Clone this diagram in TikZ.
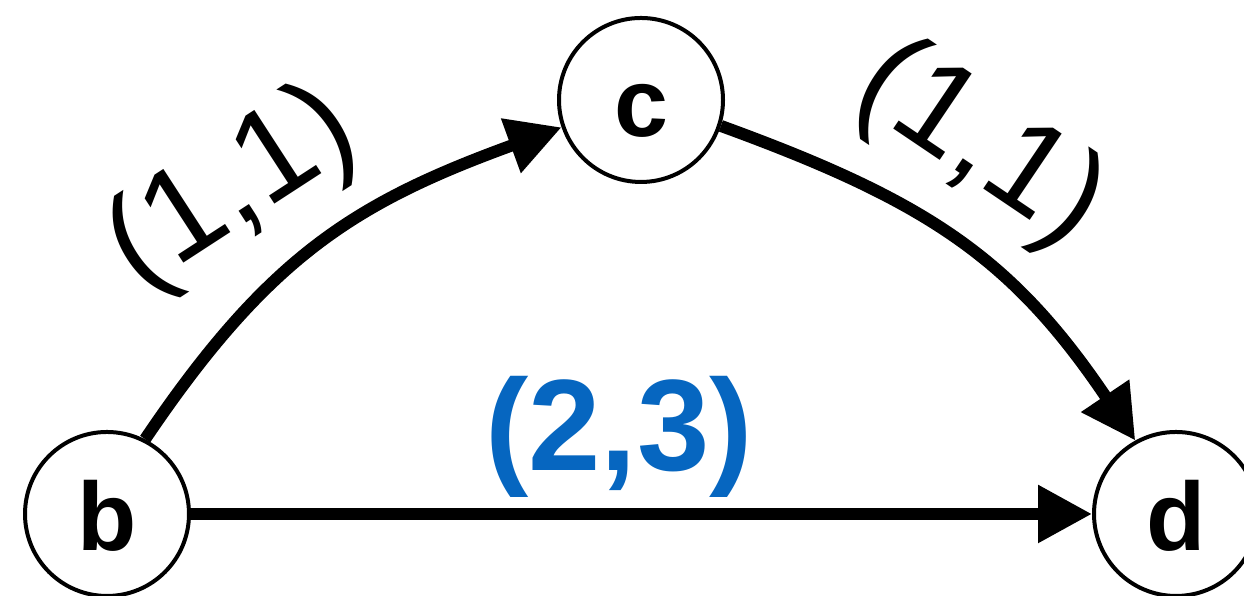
\documentclass[tikz,border=0pt]{standalone}
\usepackage{fontspec}
\setmainfont{Liberation Sans}
\usetikzlibrary{arrows.meta}
\definecolor{weightblue}{RGB}{6,102,192}
\begin{document}
\begin{tikzpicture}[
  vertex/.style={circle, draw, line width=0.04cm, minimum size=1.64cm,
    inner sep=0pt, font=\fontsize{27.6}{30}\selectfont\bfseries,
    text height=0.74cm, text depth=0cm},
  arc/.style={line width=0.12cm, -{Triangle[length=0.54cm,width=0.55cm]}},
  weight/.style={font=\fontsize{37}{40}\selectfont, inner sep=0pt},
  bigweight/.style={font=\fontsize{37}{40}\selectfont\bfseries,
    text=weightblue, inner sep=0pt},
]
\useasboundingbox (0,0) rectangle (12.44,5.96);

% vertices
\node[vertex] (b) at (1.07,0.82) {b};
\node[vertex] (c) at (6.41,4.96) {c};
\node[vertex] (d) at (11.76,0.82) {d};

% edges
\draw[arc] (b.63) .. controls +(56:2.2) and +(200:2.2) .. (c.199);
\draw[arc] (c.-18) .. controls +(-20:2.2) and +(124:2.2) .. (d.119.5);
\draw[arc] (b) -- (d);

% edge weights
\node[weight, rotate=33] (wbc) at (2.33,4.05) {(1,1)};
\node[weight, rotate=-34] (wcd) at (9.79,4.50) {(1,1)};
\node[bigweight] (wbd) at (6.19,1.59) {(2,3)};
\end{tikzpicture}
\end{document}
